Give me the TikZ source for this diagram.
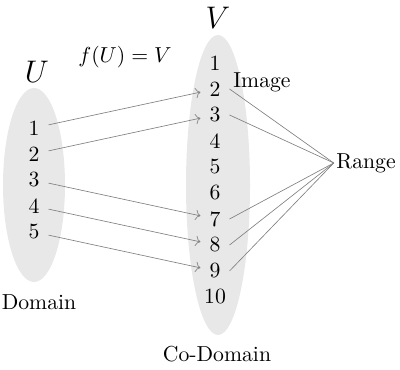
\documentclass[tikz,border=0pt]{standalone}
\usetikzlibrary{arrows.meta}

\tikzset{
  setfill/.style={fill=gray!18, draw=none},
  num/.style={inner sep=4pt},
  maparrow/.style={->, gray, line width=0.3pt},
  rangeline/.style={gray, line width=0.3pt}
}

\begin{document}
\begin{tikzpicture}[x=0.0162cm, y=-0.0162cm] % one unit is about one pixel, y down

    \useasboundingbox (0,0) rectangle (400,370);

    % The two sets
    \fill[setfill] (34,185) ellipse [x radius=31, y radius=97];
    \fill[setfill] (218,185) ellipse [x radius=32, y radius=150];

    % Set names and labels
    \node (uname) at (37,72) {\Large $U$};
    \node (vname) at (218,18) {\Large $V$};
    \node (fmap) at (125,57) {$f(U)=V$};
    \node (domain) at (39,302) {Domain};
    \node (codomain) at (217,354) {Co-Domain};
    \node (image) at (262,82) {Image};
    \node[inner sep=1pt] (range) at (366,163) {Range};

    % Elements of U
    \foreach \i in {1,...,5}
      \node[num] (u\i) at (34,{128+26*(\i-1)}) {\i};

    % Elements of V
    \foreach \i in {1,...,10}
      \node[num] (v\i) at (215,{63+26.0*(\i-1)}) {\i};

    % The mapping f
    \foreach \a/\b in {1/2,2/3,3/7,4/8,5/9}
      \draw[maparrow] (u\a) -- (v\b);

    % Range is made of the hit elements
    \foreach \b in {2,3,7,8,9}
      \draw[rangeline] (v\b.east) -- (range.west);

\end{tikzpicture}
\end{document}
